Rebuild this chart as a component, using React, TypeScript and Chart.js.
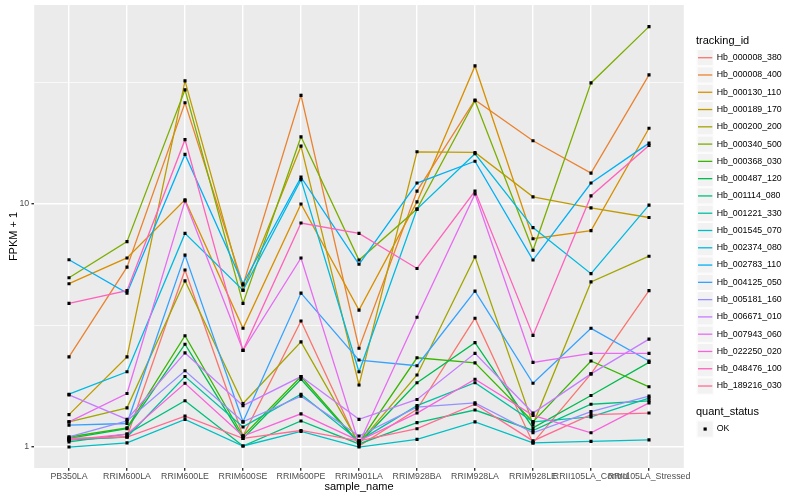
import React, { useEffect, useRef } from 'react';
import { Chart, registerables } from 'chart.js';

Chart.register(...registerables);

const FONT = '"Liberation Sans", Arial, Helvetica, sans-serif';

const samples = [
  'PB350LA', 'RRIM600LA', 'RRIM600LE', 'RRIM600SE', 'RRIM600PE', 'RRIM901LA',
  'RRIM928BA', 'RRIM928LA', 'RRIM928LE', 'RRII105LA_Control', 'RRII105LA_Stressed',
];

const trackingIds = [
  'Hb_000008_380', 'Hb_000008_400', 'Hb_000130_110', 'Hb_000189_170', 'Hb_000200_200',
  'Hb_000340_500', 'Hb_000368_030', 'Hb_000487_120', 'Hb_001114_080', 'Hb_001221_330',
  'Hb_001545_070', 'Hb_002374_080', 'Hb_002783_110', 'Hb_004125_050', 'Hb_005181_160',
  'Hb_006671_010', 'Hb_007943_060', 'Hb_022250_020', 'Hb_048476_100', 'Hb_189216_030',
];

const seriesColors = [
  '#F8766D', '#EA8331', '#D89000', '#C09B00', '#A3A500',
  '#7CAE00', '#39B600', '#00BB4E', '#00BF7D', '#00C1A3',
  '#00BFC4', '#00BAE0', '#00B0F6', '#35A2FF', '#9590FF',
  '#C77CFF', '#E76BF3', '#FA62DB', '#FF62BC', '#FF6C91',
];

const s000008_380 = [1.07, 1.1, 5.35, 1.11, 3.3, 1.01, 1.43, 3.39, 1.04, 2.0, 4.4];
const s000008_400 = [2.35, 5.5, 26.1, 4.64, 28.0, 2.55, 11.3, 26.8, 18.2, 13.4, 34.0];
const s000130_110 = [4.7, 6.0, 10.4, 3.08, 10.0, 3.66, 10.2, 37.0, 7.2, 7.77, 20.5];
const s000189_170 = [1.36, 2.35, 32.1, 4.42, 17.3, 1.8, 16.4, 16.3, 10.7, 9.64, 8.8];
const s000200_200 = [1.27, 1.45, 4.83, 1.51, 2.71, 1.035, 1.98, 6.06, 1.24, 4.78, 6.1];
const s000340_500 = [4.97, 7.0, 29.5, 3.9, 18.9, 5.88, 9.53, 26.6, 6.45, 31.5, 53.7];
const s000368_030 = [1.1, 1.2, 2.87, 1.11, 1.95, 1.04, 2.33, 2.22, 1.27, 2.26, 1.77];
const s000487_120 = [1.085, 1.19, 2.65, 1.085, 1.9, 1.035, 1.84, 2.69, 1.2, 1.63, 2.23];
const s001114_080 = [1.05, 1.13, 1.55, 1.01, 1.28, 1.03, 1.26, 1.42, 1.17, 1.5, 1.55];
const s001221_330 = [1.07, 1.1, 1.95, 1.21, 1.65, 1.06, 1.48, 1.84, 1.27, 1.33, 1.59];
const s001545_070 = [1.0, 1.04, 1.3, 1.01, 1.16, 1.0, 1.076, 1.27, 1.04, 1.055, 1.07];
const s002374_080 = [1.65, 2.04, 7.57, 4.42, 12.6, 2.04, 9.53, 16.1, 8.0, 5.17, 9.9];
const s002783_110 = [5.9, 4.3, 16.0, 4.7, 12.9, 5.65, 12.2, 15.0, 5.88, 12.2, 17.8];
const s004125_050 = [1.23, 1.25, 6.16, 1.27, 4.3, 2.28, 2.16, 4.38, 1.83, 3.08, 2.26];
const s005181_160 = [1.1, 1.28, 2.06, 1.27, 1.62, 1.11, 1.46, 1.52, 1.145, 1.4, 1.62];
const s006671_010 = [1.64, 1.3, 2.44, 1.48, 1.95, 1.3, 1.57, 2.43, 1.38, 2.0, 2.78];
const s007943_060 = [1.27, 1.66, 10.3, 2.5, 6.0, 1.035, 3.42, 11.0, 2.23, 2.43, 2.43];
const s022250_020 = [1.07, 1.13, 1.83, 1.11, 1.37, 1.06, 1.38, 1.9, 1.35, 1.145, 1.52];
const s048476_100 = [3.9, 4.4, 18.4, 2.5, 8.35, 7.57, 5.43, 11.3, 2.88, 10.8, 17.4];
const s189216_030 = [1.085, 1.1, 1.34, 1.085, 1.17, 1.06, 1.19, 1.5, 1.06, 1.36, 1.38];

const seriesValues = [
  s000008_380, s000008_400, s000130_110, s000189_170, s000200_200,
  s000340_500, s000368_030, s000487_120, s001114_080, s001221_330,
  s001545_070, s002374_080, s002783_110, s004125_050, s005181_160,
  s006671_010, s007943_060, s022250_020, s048476_100, s189216_030,
];

const yTickValues = [1, 3.1623, 10, 31.623];
const yTickLabels = ['1', '', '10', ''];
const quantStatus = ['OK'];

const isMajorY = (v: number) => yTickLabels[yTickValues.findIndex((t) => Math.abs(t - v) < 1e-6)] !== '';

const ggBackground = {
  id: 'ggBackground',
  beforeDraw(chart: any) {
    const { ctx, chartArea } = chart;
    ctx.save();
    ctx.fillStyle = '#FFFFFF';
    ctx.fillRect(0, 0, chart.width, chart.height);
    ctx.fillStyle = '#EBEBEB';
    ctx.fillRect(chartArea.left, chartArea.top, chartArea.right - chartArea.left, chartArea.bottom - chartArea.top);
    ctx.restore();
  },
};

const ggLegend = {
  id: 'ggLegend',
  afterDraw(chart: any) {
    const ctx = chart.ctx;
    const keyLeft = 696.5;
    const key = 17.28;
    ctx.save();
    ctx.textAlign = 'left';
    ctx.textBaseline = 'middle';
    ctx.fillStyle = '#000000';
    ctx.font = `11px ${FONT}`;
    ctx.fillText('tracking_id', 696, 40.5);
    ctx.font = `8.8px ${FONT}`;
    trackingIds.forEach((id, i) => {
      const top = 49.06 + i * key;
      const cy = top + key / 2;
      ctx.fillStyle = '#F2F2F2';
      ctx.fillRect(keyLeft, top, key, key);
      ctx.strokeStyle = '#FFFFFF';
      ctx.lineWidth = 1;
      ctx.strokeRect(keyLeft + 0.5, top + 0.5, key - 1, key - 1);
      ctx.strokeStyle = seriesColors[i];
      ctx.lineWidth = 1.3;
      ctx.beginPath();
      ctx.moveTo(keyLeft + 1.5, cy);
      ctx.lineTo(keyLeft + key - 1.5, cy);
      ctx.stroke();
      ctx.fillStyle = '#000000';
      ctx.fillText(id, 716.7, cy);
    });
    ctx.font = `11px ${FONT}`;
    ctx.fillText('quant_status', 696, 412.3);
    ctx.font = `8.8px ${FONT}`;
    quantStatus.forEach((q, i) => {
      const top = 420.4 + i * key;
      const cy = top + key / 2;
      ctx.fillStyle = '#F2F2F2';
      ctx.fillRect(keyLeft, top, key, key);
      ctx.strokeStyle = '#FFFFFF';
      ctx.lineWidth = 1;
      ctx.strokeRect(keyLeft + 0.5, top + 0.5, key - 1, key - 1);
      ctx.fillStyle = '#000000';
      ctx.fillRect(keyLeft + key / 2 - 1.6, cy - 1.6, 3.2, 3.2);
      ctx.fillText(q, 716.7, cy);
    });
    ctx.restore();
  },
};

export default function App() {
  const canvasRef = useRef<HTMLCanvasElement | null>(null);

  useEffect(() => {
    document.body.style.margin = '0';
    const canvas = canvasRef.current;
    if (!canvas) return;

    const lineSets = seriesValues.map((vals, si) => ({
      label: trackingIds[si],
      data: vals.map((v, i) => ({ x: i, y: v })),
      borderColor: seriesColors[si],
      backgroundColor: seriesColors[si],
      borderWidth: 1.3,
      pointRadius: 0,
      fill: false,
      tension: 0,
      order: 100 - si,
    }));

    const pointSet = {
      label: 'quant_status',
      data: seriesValues.flatMap((vals) => vals.map((v, i) => ({ x: i, y: v }))),
      showLine: false,
      pointStyle: 'rect',
      pointRadius: 2.2,
      pointBorderWidth: 0,
      pointBackgroundColor: '#000000',
      borderColor: '#000000',
      backgroundColor: '#000000',
      order: 0,
    };

    const chart = new Chart(canvas, {
      type: 'line',
      data: { datasets: [...lineSets, pointSet] as any },
      options: {
        responsive: false,
        animation: false,
        events: [],
        devicePixelRatio: window.devicePixelRatio || 1,
        layout: { padding: { top: 5, right: 116.2, left: 0, bottom: 0 } },
        plugins: {
          legend: { display: false },
          tooltip: { enabled: false },
          title: { display: false },
        },
        scales: {
          x: {
            type: 'linear',
            min: -0.6,
            max: 10.6,
            bounds: 'data',
            afterBuildTicks: (s: any) => {
              s.ticks = samples.map((_, i) => ({ value: i }));
            },
            afterFit: (s: any) => {
              s.height = 32;
              s.paddingLeft = 0;
              s.paddingRight = 0;
            },
            grid: {
              color: '#FFFFFF',
              lineWidth: 1.4,
              tickColor: '#333333',
              tickLength: 2.75,
              drawTicks: true,
            },
            border: { display: false },
            ticks: {
              autoSkip: false,
              maxRotation: 0,
              minRotation: 0,
              padding: 0.8,
              color: '#4D4D4D',
              font: { family: FONT, size: 8.8 },
              callback: (v: any) => samples[Math.round(Number(v))] ?? '',
            },
            title: {
              display: true,
              text: 'sample_name',
              color: '#000000',
              font: { family: FONT, size: 11 },
              padding: { top: 0, bottom: 6.4 },
            },
          },
          y: {
            type: 'logarithmic',
            min: 0.82,
            max: 65.9,
            bounds: 'data',
            afterBuildTicks: (s: any) => {
              s.ticks = yTickValues.map((v) => ({ value: v }));
            },
            afterFit: (s: any) => {
              s.width = 34.2;
              s.paddingTop = 0;
              s.paddingBottom = 0;
            },
            grid: {
              color: '#FFFFFF',
              lineWidth: (c: any) => (c.tick && isMajorY(c.tick.value) ? 1.4 : 0.7),
              tickColor: (c: any) => (c.tick && isMajorY(c.tick.value) ? '#333333' : 'rgba(0,0,0,0)'),
              tickLength: 2.75,
              drawTicks: true,
            },
            border: { display: false },
            ticks: {
              autoSkip: false,
              padding: 2.2,
              color: '#4D4D4D',
              font: { family: FONT, size: 8.8 },
              callback: (_v: any, i: number) => yTickLabels[i] ?? '',
            },
            title: {
              display: true,
              text: 'FPKM + 1',
              color: '#000000',
              font: { family: FONT, size: 11 },
              padding: { top: 7.4, bottom: 0 },
            },
          },
        },
      } as any,
      plugins: [ggBackground, ggLegend],
    });

    return () => chart.destroy();
  }, []);

  return (
    <div style={{ position: 'absolute', left: 0, top: 0, width: 800, height: 500 }}>
      <canvas ref={canvasRef} width={800} height={500} style={{ width: 800, height: 500 }} />
    </div>
  );
}
